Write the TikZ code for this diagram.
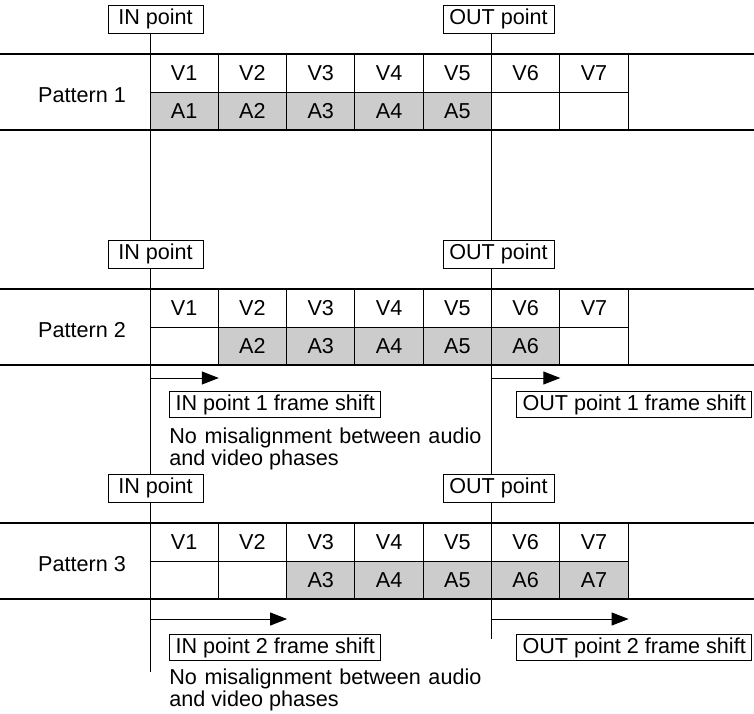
\documentclass[tikz,border=0pt]{standalone}
\usepackage{fontspec}
\setmainfont{Liberation Sans}
\usetikzlibrary{arrows.meta,positioning}
\definecolor{cellgray}{RGB}{204,204,204}

\begin{document}
\begin{tikzpicture}[
  x=0.5pt, y=-0.5pt,
  every node/.style={font=\fontsize{10.8}{11}\selectfont},
  cell/.style={rectangle, draw, line width=0.5pt, minimum width=34.15pt,
    minimum height=19pt, inner sep=0pt},
  acell/.style={cell, fill=cellgray},
  pointbox/.style={rectangle, draw, line width=0.5pt, minimum height=14pt, inner sep=0pt},
  shiftbox/.style={rectangle, draw, line width=0.5pt, minimum height=13pt,
    inner xsep=3pt, inner ysep=0pt, anchor=west},
  note/.style={text width=156pt, align=justify, inner sep=0pt, anchor=north west},
  rule/.style={line width=1.1pt},
  marker/.style={line width=0.5pt},
  arrow/.style={-{Triangle[length=8.5pt,width=6.5pt]}, line width=0.5pt}
]
  \useasboundingbox (0,0) rectangle (754,713);

  % Edit points on the timeline
  \coordinate (inx) at (150,0);
  \coordinate (outx) at (491.5,0);

  % Patterns: V row, A row shifted by the pattern number
  \foreach \p/\top in {1/54, 2/289, 3/523} {
    \pgfmathtruncatemacro{\last}{\p+4}
    \node (pat\p) at (82,\top+41) {Pattern \p};
    \node[pointbox, minimum width=47.5pt] (in\p) at (155.5,\top-35) {IN point};
    \node[pointbox, minimum width=55.5pt] (out\p) at (498.5,\top-35) {OUT point};
    \foreach \c in {1,...,7} {
      \node[cell] (v\p\c) at ({150+68.3*(\c-0.5)},{\top+19}) {V\c};
      \ifnum\c<\p
        \node[cell] (a\p\c) at ({150+68.3*(\c-0.5)},{\top+57}) {};
      \else\ifnum\c>\last
        \node[cell] (a\p\c) at ({150+68.3*(\c-0.5)},{\top+57}) {};
      \else
        \node[acell] (a\p\c) at ({150+68.3*(\c-0.5)},{\top+57}) {A\c};
      \fi\fi
    }
    \draw[rule] (0,\top) -- (754,\top);
    \draw[rule] (0,\top+76) -- (754,\top+76);
  }

  % Shift labels
  \node[shiftbox] (inshift2) at (169,404.5) {IN point 1 frame shift};
  \node[shiftbox] (outshift2) at (516,404.5) {OUT point 1 frame shift};
  \node[note] (note2) at (169,427) {No misalignment between audio and video phases};
  \node[shiftbox] (inshift3) at (169,647.5) {IN point 2 frame shift};
  \node[shiftbox] (outshift3) at (516,647.5) {OUT point 2 frame shift};
  \node[note] (note3) at (169,668.5) {No misalignment between audio and video phases};

  % Vertical IN / OUT lines
  \coordinate (inend) at (150,672);
  \coordinate (outend) at (491.5,639);
  \draw[marker] (in1.south -| inx) -- (in2.north -| inx);
  \draw[marker] (in2.south -| inx) -- (in3.north -| inx);
  \draw[marker] (in3.south -| inx) -- (inend);
  \draw[marker] (out1.south -| outx) -- (out2.north -| outx);
  \draw[marker] (out2.south -| outx) -- (out3.north -| outx);
  \draw[marker] (out3.south -| outx) -- (outend);

  % Frame shift arrows
  \coordinate (inarr2) at (150,378);
  \coordinate (outarr2) at (491.5,378);
  \coordinate (inarr3) at (150,619);
  \coordinate (outarr3) at (491.5,619);
  \draw[arrow] (inarr2) -- (inarr2 -| v21.east);
  \draw[arrow] (outarr2) -- (outarr2 -| v26.east);
  \draw[arrow] (inarr3) -- (inarr3 -| v32.east);
  \draw[arrow] (outarr3) -- (outarr3 -| v37.east);
\end{tikzpicture}
\end{document}
